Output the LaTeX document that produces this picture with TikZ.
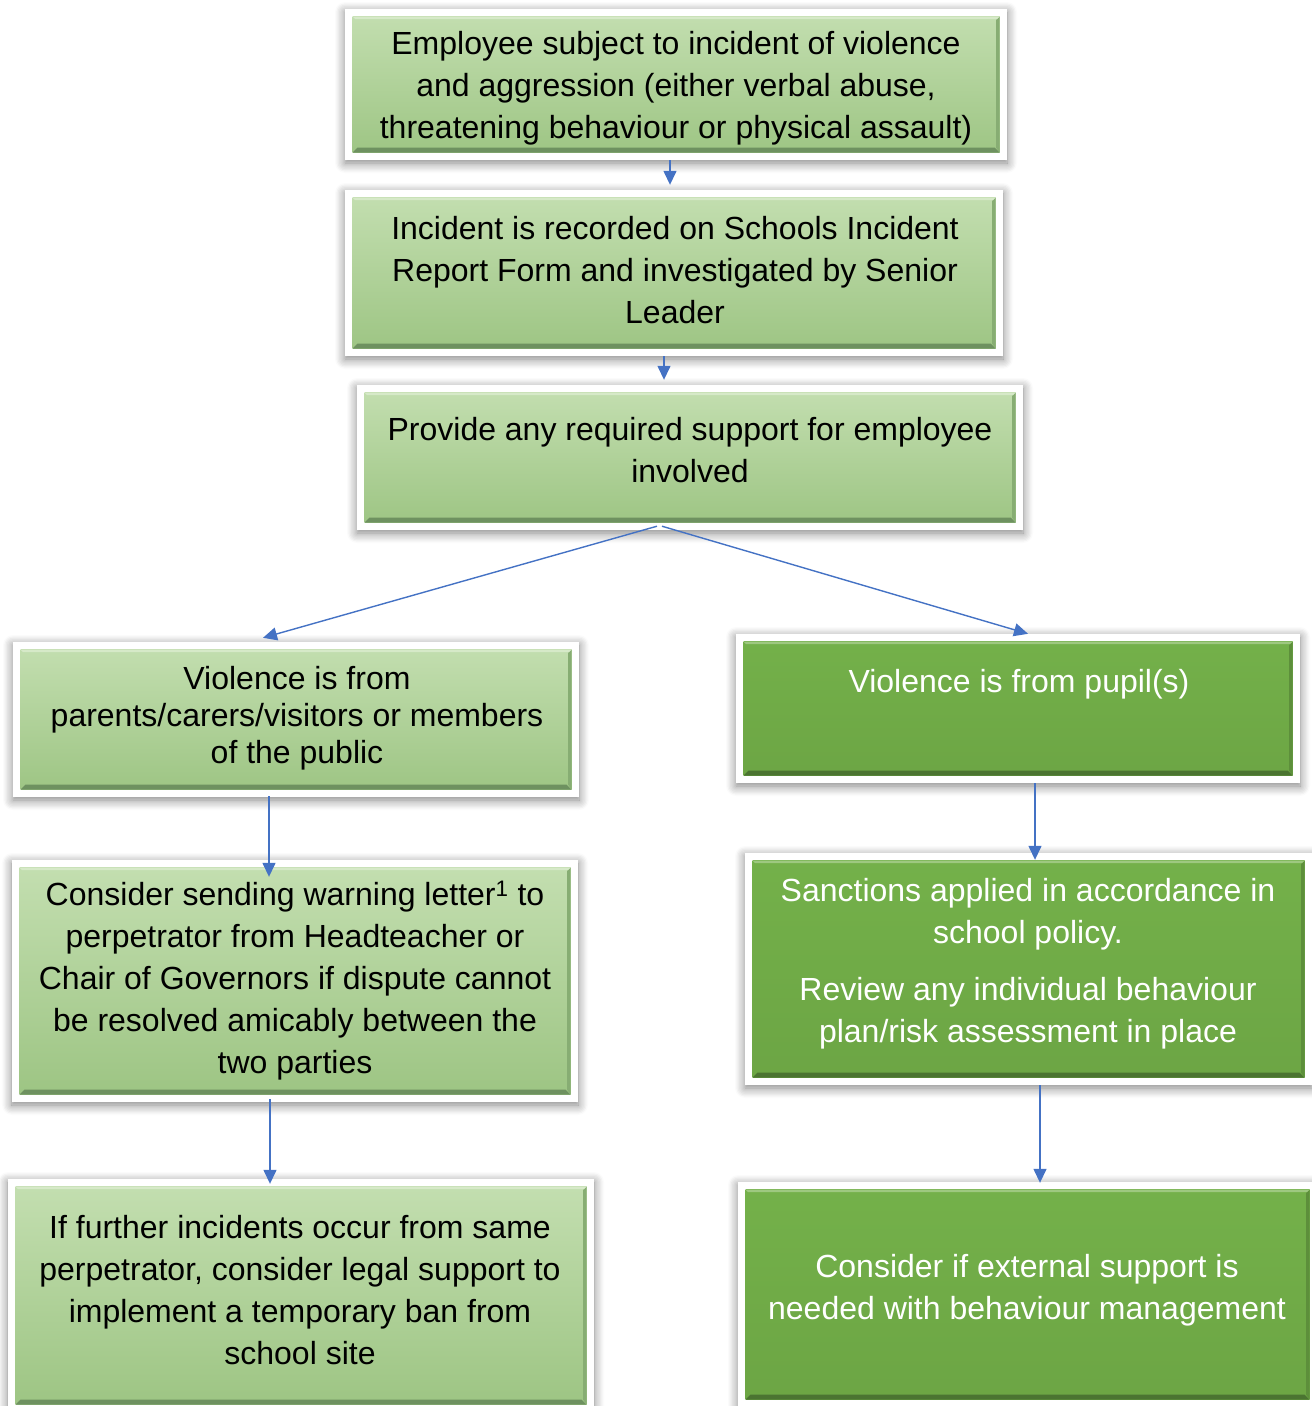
\documentclass[tikz,border=0pt]{standalone}
\usepackage{fontspec}
\setmainfont{Liberation Sans}
\usetikzlibrary{arrows.meta,shadows.blur}
\definecolor{lgtop}{HTML}{C4DFB1}
\definecolor{lgbot}{HTML}{9CC482}
\definecolor{lgbev}{HTML}{6E9160}
\definecolor{dgtop}{HTML}{74B14A}
\definecolor{dgbot}{HTML}{6CA544}
\definecolor{dgbev}{HTML}{4B7431}
\definecolor{arr}{HTML}{4472C4}
\tikzset{
  boxbase/.style={fill=white, draw=none, inner sep=0pt,
    blur shadow={shadow xshift=0pt, shadow yshift=-3pt, shadow blur radius=10pt, shadow blur steps=8, shadow opacity=50}},
  greenfill/.style n args={3}{boxbase,
    path picture={
      \shade[top color=#1, bottom color=#2] ([shift={(7.5pt,7.5pt)}]path picture bounding box.south west) rectangle ([shift={(-7.5pt,-7.5pt)}]path picture bounding box.north east);
      \fill[#3] ([shift={(7.5pt,7.5pt)}]path picture bounding box.south west) -- ([shift={(-7.5pt,7.5pt)}]path picture bounding box.south east) -- ([shift={(-12.5pt,12.5pt)}]path picture bounding box.south east) -- ([shift={(12.5pt,12.5pt)}]path picture bounding box.south west) -- cycle;
      \fill[#3!45!#2] ([shift={(-7.5pt,7.5pt)}]path picture bounding box.south east) -- ([shift={(-7.5pt,-7.5pt)}]path picture bounding box.north east) -- ([shift={(-11pt,-11pt)}]path picture bounding box.north east) -- ([shift={(-11pt,12.5pt)}]path picture bounding box.south east) -- cycle;
      \fill[#1!70!white] ([shift={(7.5pt,-7.5pt)}]path picture bounding box.north west) -- ([shift={(-7.5pt,-7.5pt)}]path picture bounding box.north east) -- ([shift={(-10pt,-10pt)}]path picture bounding box.north east) -- ([shift={(10pt,-10pt)}]path picture bounding box.north west) -- cycle;
    }},
  lightbox/.style={greenfill={lgtop}{lgbot}{lgbev}},
  darkbox/.style={greenfill={dgtop}{dgbot}{dgbev}},
  txt/.style={align=center, inner sep=0pt, font=\fontsize{32}{42}\selectfont},
  wtxt/.style={txt, text=white},
  conn/.style={draw=arr, line width=1.4pt, -{Triangle[length=14pt,width=13pt]}}
}
\begin{document}
\begin{tikzpicture}[x=1pt,y=-1pt]
\useasboundingbox (0,0) rectangle (1312,1406);
% boxes
\node[lightbox, minimum width=662pt, minimum height=151pt] (b1) at (676,84.5) {};
\node[lightbox, minimum width=658pt, minimum height=166pt] (b2) at (674,273) {};
\node[lightbox, minimum width=666pt, minimum height=145pt] (b3) at (690,457.5) {};
\node[lightbox, minimum width=566pt, minimum height=155pt] (l1) at (296,719.5) {};
\node[darkbox,  minimum width=564pt, minimum height=149pt] (r1) at (1018,708.5) {};
\node[lightbox, minimum width=566pt, minimum height=242pt] (l2) at (295,981) {};
\node[darkbox,  minimum width=567pt, minimum height=232pt] (r2) at (1028.5,969) {};
\node[lightbox, minimum width=586pt, minimum height=233pt] (l3) at (301,1295.5) {};
\node[darkbox,  minimum width=579pt, minimum height=225pt] (r3) at (1027.5,1294.5) {};
% texts
\node[txt] (t1) at (676,88.5) {Employee subject to incident of violence\\and aggression (either verbal abuse,\\threatening behaviour or physical assault)};
\node[txt] (t2) at (675,270) {Incident is recorded on Schools Incident\\Report Form and investigated by Senior\\Leader};
\node[txt] (t3) at (690,450.5) {Provide any required support for employee\\involved};
\node[txt, font=\fontsize{32}{37}\selectfont] (tl1) at (297,718) {Violence is from\\parents/carers/visitors or members\\of the public};
\node[wtxt] (tr1) at (1019,684) {Violence is from pupil(s)};
\node[txt] (tl2) at (295,981) {Consider sending warning letter\textsuperscript{1} to\\perpetrator from Headteacher or\\Chair of Governors if dispute cannot\\be resolved amicably between the\\two parties};
\node[wtxt] (tr2) at (1028,964) {Sanctions applied in accordance in\\school policy.\\[15pt]Review any individual behaviour\\plan/risk assessment in place};
\node[txt] (tl3) at (300,1290.5) {If further incidents occur from same\\perpetrator, consider legal support to\\implement a temporary ban from\\school site};
\node[wtxt] (tr3) at (1027,1290) {Consider if external support is\\needed with behaviour management};
% connectors
\draw[conn] ([xshift=-6pt]b1.south) -- ([xshift=-4pt,yshift=5pt]b2.north);
\draw[conn] ([xshift=-10pt]b2.south) -- ([xshift=-26pt,yshift=5pt]b3.north);
\draw[conn] ([xshift=-33pt,yshift=4pt]b3.south) -- ([xshift=-33pt,yshift=4pt]l1.north);
\draw[conn] ([xshift=-28pt,yshift=4pt]b3.south) -- ([xshift=10pt]r1.north);
\draw[conn] ([xshift=-27pt,yshift=1pt]l1.south) -- ([xshift=-26pt,yshift=-17pt]l2.north);
\draw[conn] ([xshift=17pt]r1.south) -- ([xshift=6.5pt,yshift=-7pt]r2.north);
\draw[conn] ([xshift=-25pt,yshift=3pt]l2.south) -- ([xshift=-31pt,yshift=-5pt]l3.north);
\draw[conn] ([xshift=11.5pt]r2.south) -- ([xshift=12.5pt,yshift=-1pt]r3.north);
\end{tikzpicture}
\end{document}
